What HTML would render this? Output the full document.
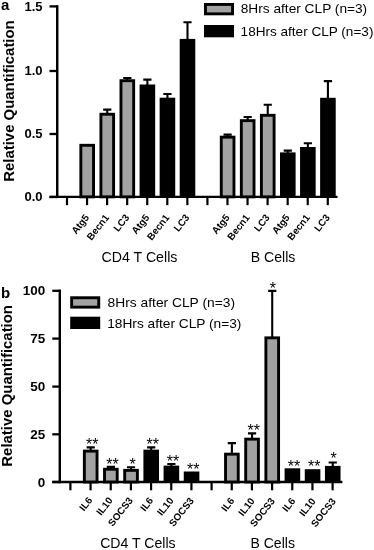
<!DOCTYPE html>
<html><head><meta charset="utf-8"><title>Figure</title>
<style>html,body{margin:0;padding:0;background:#fff}svg{display:block;filter:grayscale(1) blur(0.35px)}text{font-family:"Liberation Sans",Arial,sans-serif;fill:#000}.b{font-weight:bold}</style></head><body>
<svg width="374" height="550" viewBox="0 0 374 550">
<rect width="374" height="550" fill="#fff"/>
<path d="M57.25 5.18V198.07" stroke="#000" stroke-width="2.45" fill="none"/>
<path d="M49.50 196.85H337.50" stroke="#000" stroke-width="2.45" fill="none"/>
<path d="M49.50 6.40H57.25" stroke="#000" stroke-width="2.3000000000000003" fill="none"/>
<text class="b" x="42.50" y="10.60" font-size="12" text-anchor="end" textLength="18.1" lengthAdjust="spacingAndGlyphs">1.5</text>
<path d="M49.50 71.00H57.25" stroke="#000" stroke-width="2.3000000000000003" fill="none"/>
<text class="b" x="42.50" y="75.20" font-size="12" text-anchor="end" textLength="18.1" lengthAdjust="spacingAndGlyphs">1.0</text>
<path d="M49.50 134.00H57.25" stroke="#000" stroke-width="2.3000000000000003" fill="none"/>
<text class="b" x="42.50" y="138.20" font-size="12" text-anchor="end" textLength="18.1" lengthAdjust="spacingAndGlyphs">0.5</text>
<path d="M49.50 197.00H57.25" stroke="#000" stroke-width="2.3000000000000003" fill="none"/>
<text class="b" x="42.50" y="201.20" font-size="12" text-anchor="end" textLength="18.1" lengthAdjust="spacingAndGlyphs">0.0</text>
<path d="M67.00 196.85V205.15" stroke="#000" stroke-width="2.2" fill="none"/>
<path d="M87.06 196.85V205.15" stroke="#000" stroke-width="2.2" fill="none"/>
<path d="M107.12 196.85V205.15" stroke="#000" stroke-width="2.2" fill="none"/>
<path d="M127.18 196.85V205.15" stroke="#000" stroke-width="2.2" fill="none"/>
<path d="M147.24 196.85V205.15" stroke="#000" stroke-width="2.2" fill="none"/>
<path d="M167.30 196.85V205.15" stroke="#000" stroke-width="2.2" fill="none"/>
<path d="M187.36 196.85V205.15" stroke="#000" stroke-width="2.2" fill="none"/>
<path d="M207.42 196.85V205.15" stroke="#000" stroke-width="2.2" fill="none"/>
<path d="M227.48 196.85V205.15" stroke="#000" stroke-width="2.2" fill="none"/>
<path d="M247.54 196.85V205.15" stroke="#000" stroke-width="2.2" fill="none"/>
<path d="M267.60 196.85V205.15" stroke="#000" stroke-width="2.2" fill="none"/>
<path d="M287.66 196.85V205.15" stroke="#000" stroke-width="2.2" fill="none"/>
<path d="M307.72 196.85V205.15" stroke="#000" stroke-width="2.2" fill="none"/>
<path d="M327.78 196.85V205.15" stroke="#000" stroke-width="2.2" fill="none"/>
<rect x="80.85" y="145.30" width="12.70" height="51.55" fill="#a2a2a2" stroke="#000" stroke-width="2.9"/>
<path d="M107.26 113.80V109.60M103.16 109.60H111.36" stroke="#000" stroke-width="2.1" fill="none"/>
<rect x="100.91" y="114.25" width="12.70" height="82.60" fill="#a2a2a2" stroke="#000" stroke-width="2.9"/>
<path d="M127.32 80.25V78.00M123.22 78.00H131.42" stroke="#000" stroke-width="2.1" fill="none"/>
<rect x="120.97" y="80.70" width="12.70" height="116.15" fill="#a2a2a2" stroke="#000" stroke-width="2.9"/>
<path d="M147.38 85.50V79.60M143.28 79.60H151.48" stroke="#000" stroke-width="2.1" fill="none"/>
<rect x="139.58" y="84.50" width="15.60" height="112.35" fill="#000"/>
<path d="M167.44 98.70V94.00M163.34 94.00H171.54" stroke="#000" stroke-width="2.1" fill="none"/>
<rect x="159.64" y="97.70" width="15.60" height="99.15" fill="#000"/>
<path d="M187.50 39.90V22.20M183.40 22.20H191.60" stroke="#000" stroke-width="2.1" fill="none"/>
<rect x="179.70" y="38.90" width="15.60" height="157.95" fill="#000"/>
<path d="M227.62 136.70V134.60M223.52 134.60H231.72" stroke="#000" stroke-width="2.1" fill="none"/>
<rect x="221.27" y="137.15" width="12.70" height="59.70" fill="#a2a2a2" stroke="#000" stroke-width="2.9"/>
<path d="M247.68 120.20V117.00M243.58 117.00H251.78" stroke="#000" stroke-width="2.1" fill="none"/>
<rect x="241.33" y="120.65" width="12.70" height="76.20" fill="#a2a2a2" stroke="#000" stroke-width="2.9"/>
<path d="M267.74 114.85V104.80M263.64 104.80H271.84" stroke="#000" stroke-width="2.1" fill="none"/>
<rect x="261.39" y="115.30" width="12.70" height="81.55" fill="#a2a2a2" stroke="#000" stroke-width="2.9"/>
<path d="M287.80 153.40V150.60M283.70 150.60H291.90" stroke="#000" stroke-width="2.1" fill="none"/>
<rect x="280.00" y="152.40" width="15.60" height="44.45" fill="#000"/>
<path d="M307.86 148.00V143.20M303.76 143.20H311.96" stroke="#000" stroke-width="2.1" fill="none"/>
<rect x="300.06" y="147.00" width="15.60" height="49.85" fill="#000"/>
<path d="M327.92 98.80V81.10M323.82 81.10H332.02" stroke="#000" stroke-width="2.1" fill="none"/>
<rect x="320.12" y="97.80" width="15.60" height="99.05" fill="#000"/>
<text class="b" font-size="9.9" text-anchor="end" transform="translate(89.66 217.55) rotate(-52)">Atg5</text>
<text class="b" font-size="9.9" text-anchor="end" transform="translate(109.72 217.55) rotate(-52)">Becn1</text>
<text class="b" font-size="9.9" text-anchor="end" transform="translate(129.78 217.55) rotate(-52)">LC3</text>
<text class="b" font-size="9.9" text-anchor="end" transform="translate(149.84 217.55) rotate(-52)">Atg5</text>
<text class="b" font-size="9.9" text-anchor="end" transform="translate(169.90 217.55) rotate(-52)">Becn1</text>
<text class="b" font-size="9.9" text-anchor="end" transform="translate(189.96 217.55) rotate(-52)">LC3</text>
<text class="b" font-size="9.9" text-anchor="end" transform="translate(230.08 217.55) rotate(-52)">Atg5</text>
<text class="b" font-size="9.9" text-anchor="end" transform="translate(250.14 217.55) rotate(-52)">Becn1</text>
<text class="b" font-size="9.9" text-anchor="end" transform="translate(270.20 217.55) rotate(-52)">LC3</text>
<text class="b" font-size="9.9" text-anchor="end" transform="translate(290.26 217.55) rotate(-52)">Atg5</text>
<text class="b" font-size="9.9" text-anchor="end" transform="translate(310.32 217.55) rotate(-52)">Becn1</text>
<text class="b" font-size="9.9" text-anchor="end" transform="translate(330.38 217.55) rotate(-52)">LC3</text>
<text class="b" font-size="14.8" textLength="161.4" lengthAdjust="spacingAndGlyphs" transform="translate(13.80 181.70) rotate(-90)">Relative Quantification</text>
<text class="b" font-size="15" x="1.0" y="10.1">a</text>
<text font-size="14" x="101.5" y="261.7" textLength="75.9" lengthAdjust="spacingAndGlyphs">CD4 T Cells</text>
<text font-size="14" x="250.8" y="261.7" textLength="44.6" lengthAdjust="spacingAndGlyphs">B Cells</text>
<rect x="205.45" y="4.45" width="27.10" height="9.40" fill="#a2a2a2" stroke="#000" stroke-width="2.9"/>
<rect x="204.00" y="25.00" width="30.00" height="12.30" fill="#000"/>
<text font-size="13.5" x="240.7" y="13.3" textLength="126.5" lengthAdjust="spacingAndGlyphs">8Hrs after CLP (n=3)</text>
<text font-size="13.5" x="240.6" y="35.6" textLength="132.8" lengthAdjust="spacingAndGlyphs">18Hrs after CLP (n=3)</text>
<path d="M59.80 289.57V483.23" stroke="#000" stroke-width="2.45" fill="none"/>
<path d="M52.30 482.00H342.40" stroke="#000" stroke-width="2.45" fill="none"/>
<path d="M52.30 290.80H59.80" stroke="#000" stroke-width="2.3000000000000003" fill="none"/>
<text class="b" x="45.30" y="295.30" font-size="12" text-anchor="end" textLength="22.5" lengthAdjust="spacingAndGlyphs">100</text>
<path d="M52.30 338.60H59.80" stroke="#000" stroke-width="2.3000000000000003" fill="none"/>
<text class="b" x="45.30" y="343.10" font-size="12" text-anchor="end" textLength="15.0" lengthAdjust="spacingAndGlyphs">75</text>
<path d="M52.30 386.60H59.80" stroke="#000" stroke-width="2.3000000000000003" fill="none"/>
<text class="b" x="45.30" y="391.10" font-size="12" text-anchor="end" textLength="15.0" lengthAdjust="spacingAndGlyphs">50</text>
<path d="M52.30 434.30H59.80" stroke="#000" stroke-width="2.3000000000000003" fill="none"/>
<text class="b" x="45.30" y="438.80" font-size="12" text-anchor="end" textLength="15.0" lengthAdjust="spacingAndGlyphs">25</text>
<path d="M52.30 482.00H59.80" stroke="#000" stroke-width="2.3000000000000003" fill="none"/>
<text class="b" x="45.30" y="486.50" font-size="12" text-anchor="end" textLength="7.5" lengthAdjust="spacingAndGlyphs">0</text>
<path d="M70.40 482.00V490.30" stroke="#000" stroke-width="2.2" fill="none"/>
<path d="M90.57 482.00V490.30" stroke="#000" stroke-width="2.2" fill="none"/>
<path d="M110.74 482.00V490.30" stroke="#000" stroke-width="2.2" fill="none"/>
<path d="M130.91 482.00V490.30" stroke="#000" stroke-width="2.2" fill="none"/>
<path d="M151.08 482.00V490.30" stroke="#000" stroke-width="2.2" fill="none"/>
<path d="M171.25 482.00V490.30" stroke="#000" stroke-width="2.2" fill="none"/>
<path d="M191.42 482.00V490.30" stroke="#000" stroke-width="2.2" fill="none"/>
<path d="M211.59 482.00V490.30" stroke="#000" stroke-width="2.2" fill="none"/>
<path d="M231.76 482.00V490.30" stroke="#000" stroke-width="2.2" fill="none"/>
<path d="M251.93 482.00V490.30" stroke="#000" stroke-width="2.2" fill="none"/>
<path d="M272.10 482.00V490.30" stroke="#000" stroke-width="2.2" fill="none"/>
<path d="M292.27 482.00V490.30" stroke="#000" stroke-width="2.2" fill="none"/>
<path d="M312.44 482.00V490.30" stroke="#000" stroke-width="2.2" fill="none"/>
<path d="M332.61 482.00V490.30" stroke="#000" stroke-width="2.2" fill="none"/>
<path d="M90.70 450.65V447.40M86.60 447.40H94.80" stroke="#000" stroke-width="2.1" fill="none"/>
<rect x="84.35" y="451.10" width="12.70" height="30.90" fill="#a2a2a2" stroke="#000" stroke-width="2.9"/>
<text x="92.30" y="449.60" font-size="16" text-anchor="middle">**</text>
<path d="M110.87 468.80V466.90M106.77 466.90H114.97" stroke="#000" stroke-width="2.1" fill="none"/>
<rect x="104.52" y="469.25" width="12.70" height="12.75" fill="#a2a2a2" stroke="#000" stroke-width="2.9"/>
<text x="112.47" y="469.70" font-size="16" text-anchor="middle">**</text>
<path d="M131.04 469.90V467.30M126.94 467.30H135.14" stroke="#000" stroke-width="2.1" fill="none"/>
<rect x="124.69" y="470.35" width="12.70" height="11.65" fill="#a2a2a2" stroke="#000" stroke-width="2.9"/>
<text x="132.64" y="469.70" font-size="16" text-anchor="middle">*</text>
<path d="M151.21 450.65V447.40M147.11 447.40H155.31" stroke="#000" stroke-width="2.1" fill="none"/>
<rect x="143.41" y="449.65" width="15.60" height="32.35" fill="#000"/>
<text x="152.81" y="449.60" font-size="16" text-anchor="middle">**</text>
<path d="M171.38 466.60V464.00M167.28 464.00H175.48" stroke="#000" stroke-width="2.1" fill="none"/>
<rect x="163.58" y="465.60" width="15.60" height="16.40" fill="#000"/>
<text x="172.98" y="467.40" font-size="16" text-anchor="middle">**</text>
<rect x="183.75" y="471.50" width="15.60" height="10.50" fill="#000"/>
<text x="193.15" y="474.50" font-size="16" text-anchor="middle">**</text>
<path d="M231.89 453.70V443.10M227.79 443.10H235.99" stroke="#000" stroke-width="2.1" fill="none"/>
<rect x="225.54" y="454.15" width="12.70" height="27.85" fill="#a2a2a2" stroke="#000" stroke-width="2.9"/>
<path d="M252.06 438.70V433.40M247.96 433.40H256.16" stroke="#000" stroke-width="2.1" fill="none"/>
<rect x="245.71" y="439.15" width="12.70" height="42.85" fill="#a2a2a2" stroke="#000" stroke-width="2.9"/>
<text x="253.66" y="435.80" font-size="16" text-anchor="middle">**</text>
<path d="M272.23 337.40V290.90M268.13 290.90H276.33" stroke="#000" stroke-width="2.1" fill="none"/>
<rect x="265.88" y="337.85" width="12.70" height="144.15" fill="#a2a2a2" stroke="#000" stroke-width="2.9"/>
<text x="272.93" y="294.00" font-size="16" text-anchor="middle">*</text>
<rect x="284.60" y="468.30" width="15.60" height="13.70" fill="#000"/>
<text x="294.00" y="471.60" font-size="16" text-anchor="middle">**</text>
<rect x="304.77" y="469.20" width="15.60" height="12.80" fill="#000"/>
<text x="314.17" y="471.60" font-size="16" text-anchor="middle">**</text>
<path d="M332.74 466.90V462.50M328.64 462.50H336.84" stroke="#000" stroke-width="2.1" fill="none"/>
<rect x="324.94" y="465.90" width="15.60" height="16.10" fill="#000"/>
<text x="333.64" y="464.20" font-size="16" text-anchor="middle">*</text>
<text class="b" font-size="9.9" text-anchor="end" transform="translate(92.87 500.39) rotate(-52)">IL6</text>
<text class="b" font-size="9.9" text-anchor="end" transform="translate(113.16 500.47) rotate(-52)">IL10</text>
<text class="b" font-size="9.9" text-anchor="end" transform="translate(133.45 500.56) rotate(-52)">SOCS3</text>
<text class="b" font-size="9.9" text-anchor="end" transform="translate(153.74 500.64) rotate(-52)">IL6</text>
<text class="b" font-size="9.9" text-anchor="end" transform="translate(174.03 500.73) rotate(-52)">IL10</text>
<text class="b" font-size="9.9" text-anchor="end" transform="translate(194.32 500.81) rotate(-52)">SOCS3</text>
<text class="b" font-size="9.9" text-anchor="end" transform="translate(234.90 500.98) rotate(-52)">IL6</text>
<text class="b" font-size="9.9" text-anchor="end" transform="translate(255.19 501.06) rotate(-52)">IL10</text>
<text class="b" font-size="9.9" text-anchor="end" transform="translate(275.48 501.15) rotate(-52)">SOCS3</text>
<text class="b" font-size="9.9" text-anchor="end" transform="translate(295.77 501.23) rotate(-52)">IL6</text>
<text class="b" font-size="9.9" text-anchor="end" transform="translate(316.06 501.31) rotate(-52)">IL10</text>
<text class="b" font-size="9.9" text-anchor="end" transform="translate(336.35 501.40) rotate(-52)">SOCS3</text>
<text class="b" font-size="14.8" textLength="161.7" lengthAdjust="spacingAndGlyphs" transform="translate(12.40 466.70) rotate(-90)">Relative Quantification</text>
<text class="b" font-size="15" x="1.0" y="297.5">b</text>
<text font-size="14" x="100.2" y="548.0" textLength="75.4" lengthAdjust="spacingAndGlyphs">CD4 T Cells</text>
<text font-size="14" x="250.5" y="548.3" textLength="44.4" lengthAdjust="spacingAndGlyphs">B Cells</text>
<rect x="71.65" y="297.75" width="27.10" height="9.40" fill="#a2a2a2" stroke="#000" stroke-width="2.9"/>
<rect x="70.20" y="316.70" width="30.00" height="12.30" fill="#000"/>
<text font-size="13.5" x="107.6" y="306.5" textLength="127.4" lengthAdjust="spacingAndGlyphs">8Hrs after CLP (n=3)</text>
<text font-size="13.5" x="107.2" y="327.8" textLength="134.2" lengthAdjust="spacingAndGlyphs">18Hrs after CLP (n=3)</text>
</svg></body></html>
